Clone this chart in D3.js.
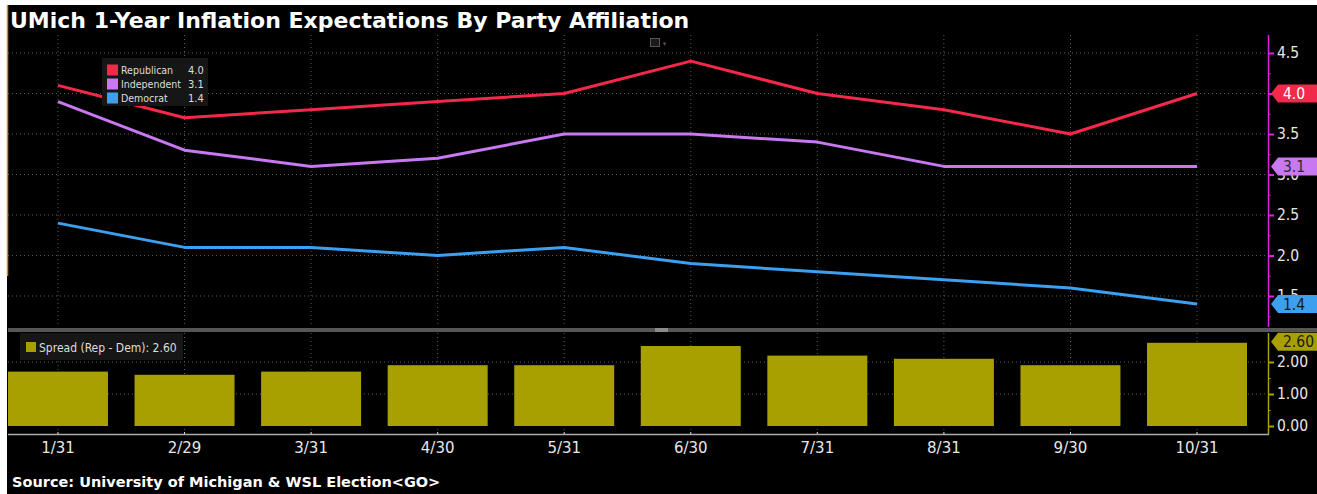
<!DOCTYPE html>
<html>
<head>
<meta charset="utf-8">
<script src="https://cdn.jsdelivr.net/npm/d3@7"></script>
<style>
  body { margin: 0; background: #fff; }
  text { font-family: "DejaVu Sans Condensed", "DejaVu Sans", sans-serif; }
</style>
</head>
<body>
<div class="canvas"></div>
<script>
// data
const dates = ['1/31', '2/29', '3/31', '4/30', '5/31', '6/30', '7/31', '8/31', '9/30', '10/31'];
const republican = [4.1, 3.7, 3.8, 3.9, 4.0, 4.4, 4.0, 3.8, 3.5, 4.0];
const independent = [3.9, 3.3, 3.1, 3.2, 3.5, 3.5, 3.4, 3.1, 3.1, 3.1];
const democrat = [2.4, 2.1, 2.1, 2.0, 2.1, 1.9, 1.8, 1.7, 1.6, 1.4];
const spread = [1.7, 1.6, 1.7, 1.9, 1.9, 2.5, 2.2, 2.1, 1.9, 2.6];

const topTicks = [1.5, 2.0, 2.5, 3.0, 3.5, 4.0, 4.5];
const topMinor = [1.25, 1.75, 2.25, 2.75, 3.25, 3.75, 4.25];
const barTicks = [0, 1, 2];
const barMinor = [0.5, 1.5];

const series = [
  {name: 'Republican', values: republican, color: '#f2294b', text: '#fff'},
  {name: 'Independent', values: independent, color: '#c878f0', text: '#2a2a2a'},
  {name: 'Democrat', values: democrat, color: '#3d9ff0', text: '#1a1a1a'}
];
const barColor = '#a89f00';
const wide = '"DejaVu Sans", sans-serif';

const width = 1317, height = 494;
const left = 8, axisX = 1268;
const top1 = 35, bottom1 = 327;
const top2 = 333, bottom2 = 435;

const svg = d3.select('.canvas')
  .append('svg')
    .attr('width', width)
    .attr('height', height);

// black frame
svg.append('rect')
  .attr('x', 7).attr('y', 5)
  .attr('width', width - 7).attr('height', height - 5)
  .attr('fill', '#000');
svg.append('line')
  .attr('x1', 7.5).attr('x2', 7.5).attr('y1', 5).attr('y2', 276)
  .attr('stroke', '#d08a2a').attr('stroke-width', 1.5);

// title + source
svg.append('text')
  .attr('x', 10).attr('y', 28)
  .attr('fill', '#fff')
  .attr('font-size', 22)
  .attr('font-weight', 'bold')
  .style('font-family', wide)
  .text('UMich 1-Year Inflation Expectations By Party Affiliation');

svg.append('text')
  .attr('x', 12).attr('y', 487)
  .attr('fill', '#fff')
  .attr('font-size', 14.5)
  .attr('font-weight', 'bold')
  .style('font-family', wide)
  .text('Source: University of Michigan & WSL Election<GO>');

// scales
const x = d3.scaleBand()
  .domain(dates)
  .range([-5.3, 1260.3])
  .paddingInner(0.21)
  .paddingOuter(0.105);
const xc = d => x(d) + x.bandwidth() / 2;

const y = d3.scaleLinear()
  .domain([1.5, 4.5])
  .range([296, 53]);

const yBar = d3.scaleLinear()
  .domain([0, 2])
  .range([426, 362]);

// clip paths
const defs = svg.append('defs');
defs.append('clipPath').attr('id', 'clipTop')
  .append('rect').attr('x', left).attr('y', top1)
  .attr('width', axisX - left).attr('height', bottom1 - top1);
defs.append('clipPath').attr('id', 'clipBot')
  .append('rect').attr('x', left).attr('y', top2)
  .attr('width', axisX - left).attr('height', bottom2 - top2);

// ---------- top panel ----------
const graph = svg.append('g').attr('clip-path', 'url(#clipTop)');

// grid
graph.selectAll('.vgrid')
  .data(dates)
  .enter().append('line')
    .attr('x1', xc).attr('x2', xc)
    .attr('y1', top1).attr('y2', bottom1)
    .attr('stroke', '#5a5a5a').attr('stroke-dasharray', '1,3');

graph.selectAll('.hgrid')
  .data(topTicks)
  .enter().append('line')
    .attr('x1', left).attr('x2', axisX)
    .attr('y1', d => y(d)).attr('y2', d => y(d))
    .attr('stroke', '#5a5a5a').attr('stroke-dasharray', '1,3');

const line = d3.line()
  .x((d, i) => xc(dates[i]))
  .y(d => y(d));

graph.selectAll('.series')
  .data(series)
  .enter().append('path')
    .attr('d', d => line(d.values))
    .attr('fill', 'none')
    .attr('stroke', d => d.color)
    .attr('stroke-width', 3)
    .attr('stroke-linejoin', 'round');

// small widget icon
svg.append('rect')
  .attr('x', 650.5).attr('y', 38.5).attr('width', 9).attr('height', 8)
  .attr('fill', '#1a1a1a').attr('stroke', '#555');
svg.append('text')
  .attr('x', 663).attr('y', 46).attr('fill', '#555').attr('font-size', 7)
  .text('▾');

// legend
const legend = svg.append('g');
legend.append('rect')
  .attr('x', 102).attr('y', 58).attr('width', 106).attr('height', 48)
  .attr('fill', '#161616');
series.forEach((s, i) => {
  const ly = 70 + i * 14;
  legend.append('rect')
    .attr('x', 107).attr('y', ly - 5.5).attr('width', 11).attr('height', 11)
    .attr('fill', s.color);
  legend.append('text')
    .attr('x', 121).attr('y', ly + 4)
    .attr('fill', '#ddd').attr('font-size', 10.5)
    .text(s.name);
  legend.append('text')
    .attr('x', 188).attr('y', ly + 4)
    .attr('fill', '#ddd').attr('font-size', 11)
    .text(d3.format('.1f')(s.values[s.values.length - 1]));
});

// right axis
const yAxisGroup = svg.append('g')
  .attr('transform', `translate(${axisX}, 0)`);
yAxisGroup.call(d3.axisRight(y).tickValues(topMinor).tickSize(3).tickFormat(''));
yAxisGroup.call(g => g.select('.domain').remove());
yAxisGroup.selectAll('line').attr('stroke', '#b020b0');

// the 4.0 label sits fully under its badge, so it is left out
const yAxisMajor = svg.append('g')
  .attr('transform', `translate(${axisX}, 0)`);
yAxisMajor.call(d3.axisRight(y)
  .tickValues(topTicks)
  .tickSize(6)
  .tickPadding(3)
  .tickFormat(d => d === 4.0 ? '' : d3.format('.1f')(d)));
yAxisMajor.select('.domain').remove();
yAxisMajor.selectAll('line').attr('stroke', '#e020e0').attr('stroke-width', 2);
yAxisMajor.selectAll('text')
  .attr('fill', '#e6e6e6')
  .attr('font-size', 15.5)
  .attr('font-family', null);

svg.append('line')
  .attr('x1', axisX + 0.5).attr('x2', axisX + 0.5)
  .attr('y1', top1).attr('y2', bottom1)
  .attr('stroke', '#e020e0').attr('stroke-width', 1.5);

// value badges
const badge = (g, yy, fill, txtColor, label) => {
  g.append('path')
    .attr('d', `M${axisX + 3},${yy} L${axisX + 10},${yy - 9} L${width},${yy - 9} L${width},${yy + 9} L${axisX + 10},${yy + 9} Z`)
    .attr('fill', fill);
  g.append('text')
    .attr('x', axisX + 15).attr('y', yy + 5.5)
    .attr('fill', txtColor).attr('font-size', 15.5)
    .text(label);
};
const badges = svg.append('g');
series.forEach(s => {
  const v = s.values[s.values.length - 1];
  badge(badges, y(v), s.color, s.text, d3.format('.1f')(v));
});

// separator
svg.append('rect')
  .attr('x', left).attr('y', 328).attr('width', width - left).attr('height', 4)
  .attr('fill', '#565656');
svg.append('rect')
  .attr('x', 655).attr('y', 328).attr('width', 13).attr('height', 4)
  .attr('fill', '#8a8a8a');

// ---------- bar panel ----------
const barGraph = svg.append('g').attr('clip-path', 'url(#clipBot)');

barGraph.selectAll('.vgrid')
  .data(dates)
  .enter().append('line')
    .attr('x1', xc).attr('x2', xc)
    .attr('y1', top2).attr('y2', bottom2)
    .attr('stroke', '#5a5a5a').attr('stroke-dasharray', '1,3');

barGraph.selectAll('.hgrid')
  .data(barTicks.filter(d => d > 0))
  .enter().append('line')
    .attr('x1', left).attr('x2', axisX)
    .attr('y1', d => yBar(d)).attr('y2', d => yBar(d))
    .attr('stroke', '#5a5a5a').attr('stroke-dasharray', '1,3');

const rects = barGraph.selectAll('rect')
  .data(spread);
rects.enter()
  .append('rect')
    .attr('x', (d, i) => x(dates[i]))
    .attr('width', x.bandwidth())
    .attr('y', d => yBar(d))
    .attr('height', d => yBar(0) - yBar(d))
    .attr('fill', barColor);

// bar legend
svg.append('rect')
  .attr('x', 20).attr('y', 333).attr('width', 163).attr('height', 27)
  .attr('fill', '#161616');
svg.append('rect')
  .attr('x', 26).attr('y', 342).attr('width', 10).attr('height', 10)
  .attr('fill', barColor);
svg.append('text')
  .attr('x', 39).attr('y', 352)
  .attr('fill', '#ddd').attr('font-size', 12)
  .text('Spread (Rep - Dem): ' + d3.format('.2f')(spread[spread.length - 1]));

// bar axis
const barAxisMinor = svg.append('g')
  .attr('transform', `translate(${axisX}, 0)`);
barAxisMinor.call(d3.axisRight(yBar).tickValues(barMinor).tickSize(3).tickFormat(''));
barAxisMinor.select('.domain').remove();
barAxisMinor.selectAll('line').attr('stroke', '#7a7400');

const barAxis = svg.append('g')
  .attr('transform', `translate(${axisX}, 0)`);
barAxis.call(d3.axisRight(yBar)
  .tickValues(barTicks)
  .tickSize(6)
  .tickPadding(3)
  .tickFormat(d3.format('.2f')));
barAxis.select('.domain').remove();
barAxis.selectAll('line').attr('stroke', barColor).attr('stroke-width', 2);
barAxis.selectAll('text')
  .attr('fill', '#e6e6e6')
  .attr('font-size', 15.5)
  .attr('font-family', null);

svg.append('line')
  .attr('x1', axisX + 0.5).attr('x2', axisX + 0.5)
  .attr('y1', top2).attr('y2', bottom2 - 1)
  .attr('stroke', barColor).attr('stroke-width', 1.5);

const sLast = spread[spread.length - 1];
badge(svg.append('g'), yBar(sLast) - 1, barColor, '#1a1a1a', d3.format('.2f')(sLast));

// x axis
const xAxisGroup = svg.append('g')
  .attr('transform', `translate(0, ${bottom2})`);
xAxisGroup.call(d3.axisBottom(x).tickSize(-3).tickPadding(7));
xAxisGroup.select('.domain').remove();
xAxisGroup.selectAll('line').attr('stroke', '#ddd');
xAxisGroup.selectAll('text')
  .attr('fill', '#e6e6e6')
  .attr('font-size', 15)
  .attr('font-family', null)
  .style('font-family', wide);

svg.append('line')
  .attr('x1', left).attr('x2', axisX + 1)
  .attr('y1', bottom2 - 0.5).attr('y2', bottom2 - 0.5)
  .attr('stroke', '#aaa').attr('stroke-width', 1.5);
</script>
</body>
</html>
